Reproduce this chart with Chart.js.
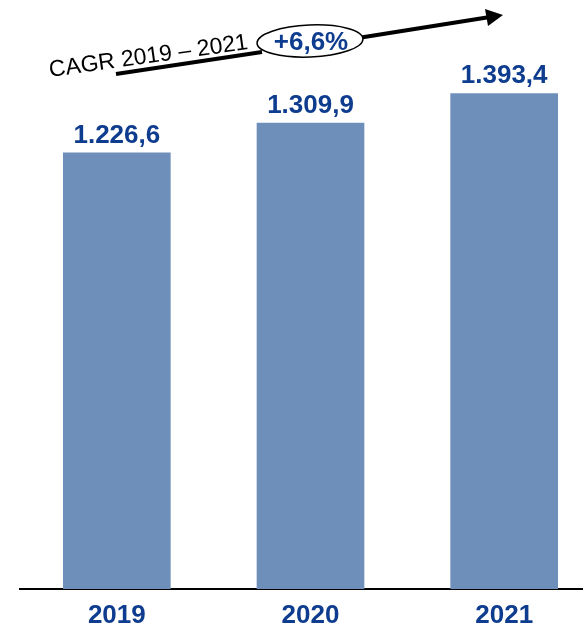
<!DOCTYPE html>
<html>
<head>
<meta charset="utf-8">
<script src="https://cdn.jsdelivr.net/npm/chart.js@4"></script>
<style>
  html, body { margin: 0; padding: 0; background: #fff; overflow: hidden; }
  #wrap { width: 583px; height: 625px; overflow: hidden; }
</style>
</head>
<body>
<div id="wrap"><canvas id="cagrChart" width="601" height="635"></canvas></div>
<script>
const years = ['2019', '2020', '2021'];
const values = [1226.6, 1309.9, 1393.4];
const cagrLabel = 'CAGR 2019 \u2013 2021';
const cagrValue = '+6,6%';

const blue = '#0E3C8E';
const barColor = '#6F8FBB';
const font = '"Liberation Sans", Arial, sans-serif';

function fmt(v) {
    return v.toLocaleString('de-DE', { minimumFractionDigits: 1, maximumFractionDigits: 1 });
}

const valueLabels = {
    id: 'valueLabels',
    afterDatasetsDraw(chart) {
        const c = chart.ctx;
        const meta = chart.getDatasetMeta(0);
        c.save();
        c.font = 'bold 26px ' + font;
        c.fillStyle = blue;
        c.textAlign = 'center';
        c.textBaseline = 'alphabetic';
        meta.data.forEach(function (bar, i) {
            c.fillText(fmt(values[i]), bar.x, bar.y - 10);
        });
        c.restore();
    }
};

// CAGR arrow with ellipse above the bars
const cagrArrow = {
    id: 'cagrArrow',
    afterDraw(chart) {
        const c = chart.ctx;
        c.save();
        c.strokeStyle = '#000';
        c.lineWidth = 4;
        c.beginPath();
        c.moveTo(116, 74);
        c.lineTo(262, 52);
        c.moveTo(358, 38);
        c.lineTo(490, 17);
        c.stroke();
        // arrow head
        c.fillStyle = '#000';
        c.beginPath();
        c.moveTo(503, 15);
        c.lineTo(485, 9);
        c.lineTo(488, 26);
        c.closePath();
        c.fill();
        // ellipse
        c.lineWidth = 1.5;
        c.fillStyle = '#fff';
        c.beginPath();
        c.ellipse(310, 41, 53, 16, -0.04, 0, Math.PI * 2);
        c.fill();
        c.stroke();
        c.font = 'bold 26px ' + font;
        c.fillStyle = blue;
        c.textAlign = 'center';
        c.textBaseline = 'middle';
        c.fillText(cagrValue, 311, 43);
        // rotated label
        c.translate(50, 77);
        c.rotate(-8 * Math.PI / 180);
        c.font = '23px ' + font;
        c.fillStyle = '#000';
        c.textAlign = 'left';
        c.textBaseline = 'alphabetic';
        c.fillText(cagrLabel, 0, 0);
        c.restore();
    }
};

new Chart(document.getElementById('cagrChart'), {
    type: 'bar',
    data: {
        labels: years,
        datasets: [{
            data: values,
            backgroundColor: barColor,
            barThickness: 107
        }]
    },
    options: {
        responsive: false,
        animation: false,
        layout: { padding: { left: 20, top: 20, right: 0, bottom: 0 } },
        plugins: {
            legend: { display: false },
            tooltip: { enabled: false }
        },
        scales: {
            x: {
                grid: { display: false },
                border: { color: '#000', width: 2 },
                ticks: {
                    color: blue,
                    padding: 6,
                    font: { family: font, size: 26, weight: 'bold', lineHeight: 1 }
                }
            },
            y: {
                display: false,
                min: 0,
                max: 1600
            }
        }
    },
    plugins: [valueLabels, cagrArrow]
});
</script>
</body>
</html>
